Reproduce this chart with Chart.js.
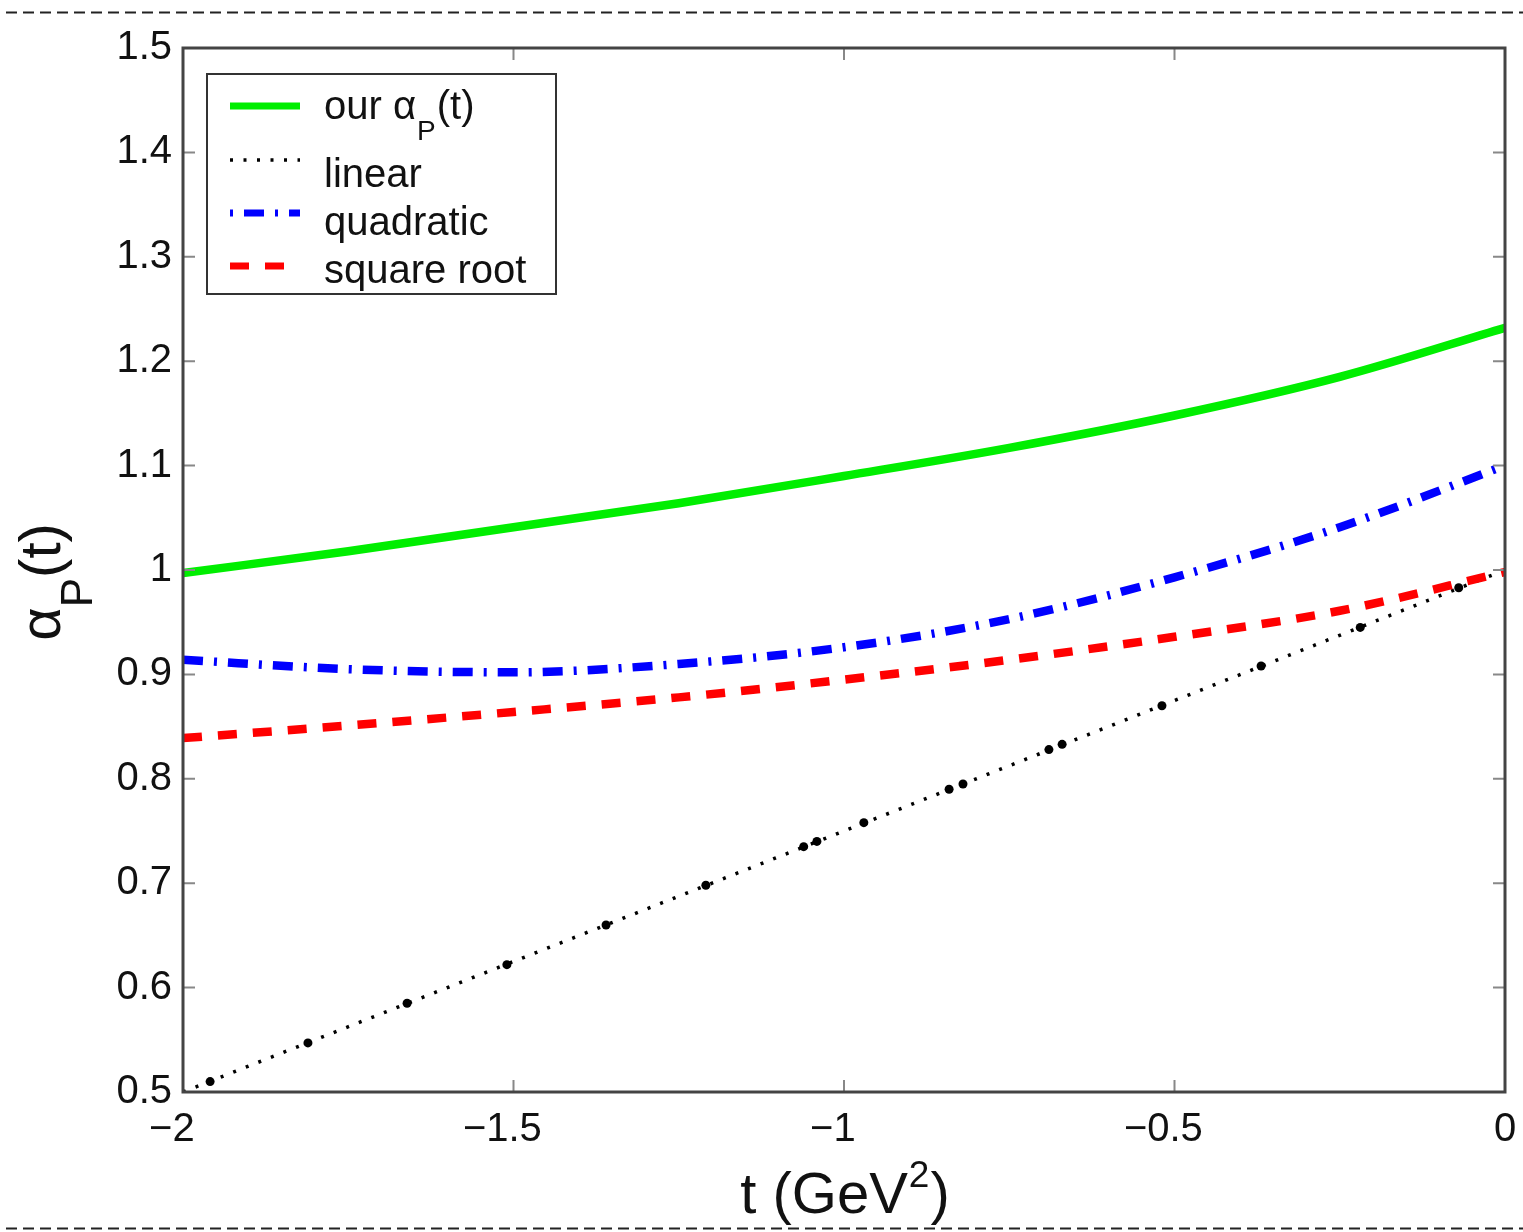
<!DOCTYPE html>
<html>
<head>
<meta charset="utf-8">
<script src="https://cdn.jsdelivr.net/npm/chart.js@4.4.0/dist/chart.umd.min.js"></script>
<style>
  html, body { margin: 0; padding: 0; background: #fff; }
  #wrap { width: 1523px; height: 1232px; }
</style>
</head>
<body>
<div id="wrap"><canvas id="myChart" width="1523" height="1232"></canvas></div>
<script>
// values
const tValues = [-2, -1.75, -1.5, -1.25, -1, -0.75, -0.5, -0.25, 0];
const ourAlpha = [0.997, 1.018, 1.041, 1.064, 1.090, 1.117, 1.148, 1.185, 1.232];
const quadratic = [0.914, 0.905, 0.902, 0.910, 0.926, 0.953, 0.993, 1.041, 1.100];
const squareRoot = [0.839, 0.851, 0.864, 0.878, 0.895, 0.914, 0.936, 0.961, 0.998];

const linearT = [-2, 0];
const linear = [0.5, 1.0];
// the heavier dots that sit on the dotted line
const linearDotT = [-1.959, -1.811, -1.661, -1.510, -1.360, -1.209, -1.061, -1.041, -0.970,
                    -0.841, -0.820, -0.690, -0.670, -0.519, -0.369, -0.219, -0.070];
const linearDotY = [0.510, 0.547, 0.585, 0.622, 0.660, 0.698, 0.735, 0.740, 0.758,
                    0.790, 0.795, 0.828, 0.833, 0.870, 0.908, 0.945, 0.983];

const xTicks = [-2, -1.5, -1, -0.5, 0];
const yTicks = [0.5, 0.6, 0.7, 0.8, 0.9, 1.0, 1.1, 1.2, 1.3, 1.4, 1.5];

const FONT = '"Liberation Sans", Arial, Helvetica, sans-serif';

const pts = (xs, ys) => xs.map((x, i) => ({x: x, y: ys[i]}));

const data = {
    datasets: [
        {
            label: 'our',
            data: pts(tValues, ourAlpha),
            borderColor: 'rgb(0, 238, 0)',
            borderWidth: 8.5,
            pointRadius: 0,
            cubicInterpolationMode: 'monotone',
            order: 5,
        },
        {
            label: 'linear',
            data: pts(linearT, linear),
            borderColor: '#000',
            borderWidth: 3.5,
            borderDash: [3, 10.5],
            pointRadius: 0,
            order: 4,
        },
        {
            label: 'linear dots',
            data: pts(linearDotT, linearDotY),
            showLine: false,
            pointRadius: 4.5,
            pointBackgroundColor: '#000',
            pointBorderWidth: 0,
            order: 3,
        },
        {
            label: 'quadratic',
            data: pts(tValues, quadratic),
            borderColor: 'rgb(0, 0, 255)',
            borderWidth: 8.5,
            borderDash: [20, 11, 3, 11],
            pointRadius: 0,
            cubicInterpolationMode: 'monotone',
            order: 2,
        },
        {
            label: 'square root',
            data: pts(tValues, squareRoot),
            borderColor: 'rgb(255, 0, 0)',
            borderWidth: 8.5,
            borderDash: [19, 16],
            pointRadius: 0,
            cubicInterpolationMode: 'monotone',
            order: 1,
        },
    ]
};

// frame, inward ticks, titles, legend and the dashed page edges
const decorations = {
    id: 'decorations',
    afterDraw(chart) {
        const ctx = chart.ctx;
        const a = chart.chartArea;
        const xs = chart.scales.x;
        const ys = chart.scales.y;
        ctx.save();

        // dashed page edges
        ctx.strokeStyle = '#222';
        ctx.lineWidth = 2;
        ctx.setLineDash([11, 6]);
        [12.5, 1228.5].forEach(y => {
            ctx.beginPath();
            ctx.moveTo(6, y);
            ctx.lineTo(1523, y);
            ctx.stroke();
        });
        ctx.setLineDash([]);

        // inward ticks
        ctx.strokeStyle = '#888';
        ctx.lineWidth = 2;
        const tl = 12;
        yTicks.forEach(v => {
            const y = ys.getPixelForValue(v);
            ctx.beginPath();
            ctx.moveTo(a.left, y); ctx.lineTo(a.left + tl, y);
            ctx.moveTo(a.right, y); ctx.lineTo(a.right - tl, y);
            ctx.stroke();
        });
        xTicks.forEach(v => {
            const x = xs.getPixelForValue(v);
            ctx.beginPath();
            ctx.moveTo(x, a.bottom); ctx.lineTo(x, a.bottom - tl);
            ctx.moveTo(x, a.top); ctx.lineTo(x, a.top + tl);
            ctx.stroke();
        });

        // frame
        ctx.strokeStyle = '#444';
        ctx.lineWidth = 3;
        ctx.strokeRect(a.left, a.top, a.right - a.left, a.bottom - a.top);

        // x title: t (GeV^2)
        ctx.fillStyle = '#111';
        ctx.textBaseline = 'alphabetic';
        ctx.textAlign = 'left';
        const big = '58px ' + FONT, sup = '37px ' + FONT;
        ctx.font = big;
        const w1 = ctx.measureText('t (GeV').width;
        const w3 = ctx.measureText(')').width;
        ctx.font = sup;
        const w2 = ctx.measureText('2').width;
        let x0 = (a.left + a.right) / 2 - (w1 + w2 + w3) / 2;
        ctx.font = big;
        ctx.fillText('t (GeV', x0, 1213);
        ctx.font = sup;
        ctx.fillText('2', x0 + w1 + 1, 1187);
        ctx.font = big;
        ctx.fillText(')', x0 + w1 + w2 + 2, 1213);

        // y title: alpha_P(t), rotated
        ctx.save();
        ctx.translate(60, 582);
        ctx.rotate(-Math.PI / 2);
        const yBig = '58px ' + FONT, ySub = '44px ' + FONT;
        ctx.font = yBig;
        const aw = ctx.measureText('\u03b1').width;
        const tw = ctx.measureText('(t)').width;
        ctx.font = ySub;
        const pw = ctx.measureText('P').width;
        let y0 = -(aw + pw + tw) / 2;
        ctx.font = yBig;
        ctx.fillText('\u03b1', y0, 0);
        ctx.font = ySub;
        ctx.fillText('P', y0 + aw, 32);
        ctx.font = yBig;
        ctx.fillText('(t)', y0 + aw + pw, 0);
        ctx.restore();

        // legend
        const lx = 207, ly = 74, lw = 349, lh = 220;
        ctx.fillStyle = '#fff';
        ctx.fillRect(lx, ly, lw, lh);
        ctx.strokeStyle = '#333';
        ctx.lineWidth = 2;
        ctx.strokeRect(lx, ly, lw, lh);

        const rows = [
            {ds: 0, y: 106, width: 7},
            {ds: 1, y: 160, width: 3.5},
            {ds: 3, y: 213, width: 7, offset: 31},
            {ds: 4, y: 266, width: 7},
        ];
        rows.forEach(r => {
            const d = chart.data.datasets[r.ds];
            ctx.strokeStyle = d.borderColor;
            ctx.lineWidth = r.width;
            ctx.setLineDash(d.borderDash || []);
            ctx.lineDashOffset = r.offset || 0;
            ctx.beginPath();
            ctx.moveTo(230, r.y);
            ctx.lineTo(300, r.y);
            ctx.stroke();
        });
        ctx.setLineDash([]);
        ctx.lineDashOffset = 0;

        ctx.fillStyle = '#111';
        const lf = '40px ' + FONT;
        ctx.font = lf;
        ctx.fillText('our \u03b1', 324, 119);
        const ow = ctx.measureText('our \u03b1').width;
        ctx.font = '28px ' + FONT;
        ctx.fillText('P', 324 + ow + 1, 140);
        const pw2 = ctx.measureText('P').width;
        ctx.font = lf;
        ctx.fillText('(t)', 324 + ow + pw2 + 2, 119);
        ctx.fillText('linear', 324, 187);
        ctx.fillText('quadratic', 324, 235);
        ctx.fillText('square root', 324, 283);

        ctx.restore();
    }
};

const options = {
    responsive: false,
    animation: false,
    layout: {
        padding: {left: 0, top: 48, right: 18, bottom: 0}
    },
    scales: {
        x: {
            type: 'linear',
            min: -2,
            max: 0,
            afterFit: s => { s.height = 140; s.paddingLeft = 0; s.paddingRight = 0; },
            afterBuildTicks: s => { s.ticks = xTicks.map(v => ({value: v})); },
            grid: {display: false, drawTicks: false},
            border: {display: false},
            ticks: {
                color: '#111',
                font: {family: FONT, size: 40},
                padding: 14,
                maxRotation: 0,
                autoSkip: false,
                callback: v => v < 0 ? '\u2212' + String(-v) + '  ' : String(v),
            },
        },
        y: {
            type: 'linear',
            min: 0.5,
            max: 1.5,
            afterFit: s => { s.width = 183; s.paddingTop = 0; s.paddingBottom = 0; },
            afterBuildTicks: s => { s.ticks = yTicks.map(v => ({value: v})); },
            grid: {display: false, drawTicks: false},
            border: {display: false},
            ticks: {
                color: '#111',
                font: {family: FONT, size: 40},
                padding: 11,
                autoSkip: false,
                callback: v => String(+v.toFixed(1)),
            },
        },
    },
    plugins: {
        legend: {display: false},
        tooltip: {enabled: false},
    }
};

const config = {
    type: 'line',
    data: data,
    options,
    plugins: [decorations]
};

const myChart = new Chart(
    document.getElementById('myChart'),
    config
);
</script>
</body>
</html>
